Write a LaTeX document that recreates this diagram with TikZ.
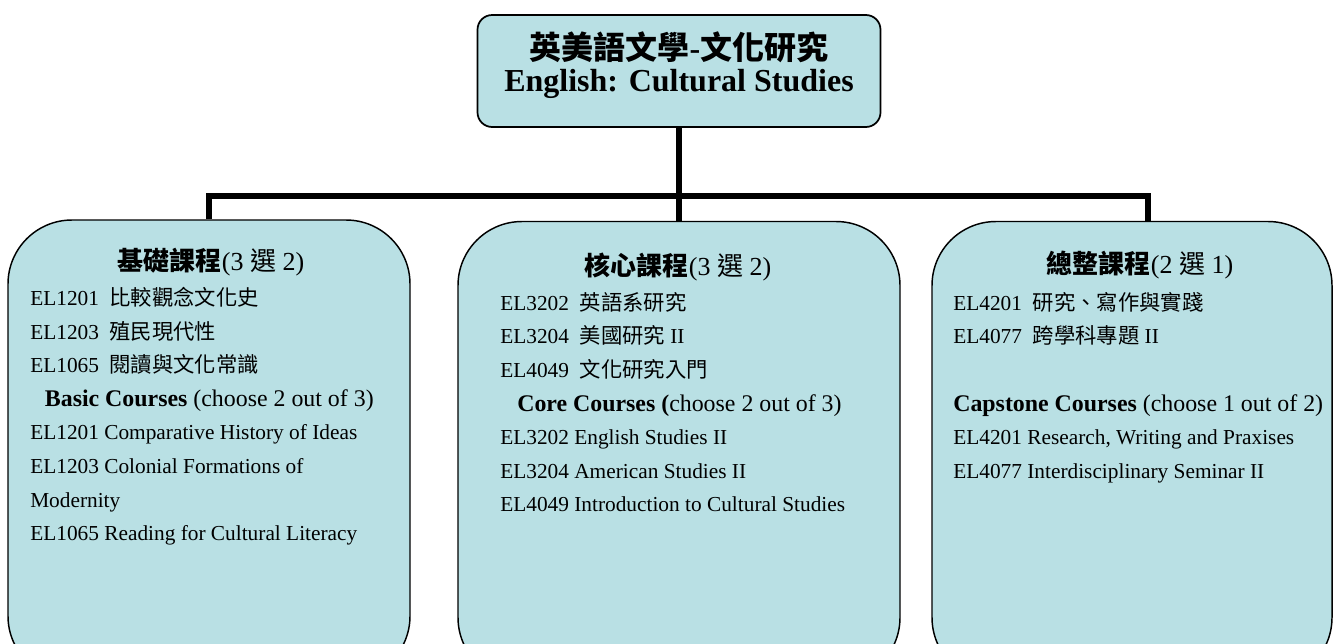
\documentclass[tikz,border=0pt]{standalone}
\usepackage{fontspec}
\setmainfont{Liberation Serif}
\newfontfamily\cjk{Noto Sans CJK TC}
\usetikzlibrary{positioning}
\definecolor{boxblue}{RGB}{185,224,228}
\newcommand\gap{\hspace{0.5em}}
\newcommand\bigline{\fontsize{17.9pt}{25.2pt}\selectfont}

\begin{document}
\begin{tikzpicture}[x=0.75pt, y=-0.75pt,
    coursebox/.style={draw=black, line width=1.1pt, fill=boxblue, rounded corners=48pt, minimum height=345pt},
    titlebox/.style={draw=black, line width=1.3pt, fill=boxblue, rounded corners=11pt, minimum width=302.25pt, minimum height=84pt},
    head/.style={inner sep=0pt, font=\fontsize{19.5pt}{24pt}\selectfont},
    courselist/.style={anchor=north west, align=left, inner sep=0pt, font=\fontsize{16pt}{25.2pt}\selectfont},
    link/.style={line width=4.2pt}]
    \useasboundingbox (0,0) rectangle (1341,643);
    \clip (0,0) rectangle (1341,643);
    % connectors
    \coordinate (bar) at (679,196);
    % title
    \node[titlebox] (title) at (679,71) {};
    \node[align=center, inner sep=0pt, font=\fontsize{24pt}{24pt}\selectfont] (titletext) at (679,65)
        {{\cjk\bfseries 英美語文學}\textbf{-}{\cjk\bfseries 文化研究}\\ \textbf{English: Cultural Studies}};
    % course boxes
    \node[coursebox, minimum width=301.5pt] (basic)    at (209,450)   {};
    \node[coursebox, minimum width=331.5pt] (core)     at (679,451.5) {};
    \node[coursebox, minimum width=300pt]   (capstone) at (1132,451.5) {};
    \draw[link] (title.south) -- (bar);
    \draw[link] (basic.north) |- (bar);
    \draw[link] (core.north) -- (bar);
    \draw[link] ([xshift=12pt]capstone.north) |- (bar);
    % basic courses
    \node[head] (basichead) at (211,262) {{\cjk\bfseries 基礎課程}(3 {\cjk 選} 2)};
    \node[courselist] (basiclist) at (30,287) {%
        EL1201\gap{\cjk 比較觀念文化史}\\
        EL1203\gap{\cjk 殖民現代性}\\
        EL1065\gap{\cjk 閱讀與文化常識}\\
        \hspace*{11pt}{\bigline\textbf{Basic Courses} (choose 2 out of 3)}\\
        EL1201 Comparative History of Ideas\\
        EL1203 Colonial Formations of\\
        Modernity\\
        EL1065 Reading for Cultural Literacy};
    % core courses
    \node[head] (corehead) at (678,267) {{\cjk\bfseries 核心課程}(3 {\cjk 選} 2)};
    \node[courselist] (corelist) at (500,292) {%
        EL3202\gap{\cjk 英語系研究}\\
        EL3204\gap{\cjk 美國研究} II\\
        EL4049\gap{\cjk 文化研究入門}\\
        \hspace*{12.75pt}{\bigline\textbf{Core Courses (}choose 2 out of 3)}\\
        EL3202 English Studies II\\
        EL3204 American Studies II\\
        EL4049 Introduction to Cultural Studies};
    % capstone courses
    \node[head] (capstonehead) at (1140,265) {{\cjk\bfseries 總整課程}(2 {\cjk 選} 1)};
    \node[courselist] (capstonelist) at (953,292) {%
        EL4201\gap{\cjk 研究、寫作與實踐}\\
        EL4077\gap{\cjk 跨學科專題} II\\[25.2pt]
        {\bigline\textbf{Capstone Courses} (choose 1 out of 2)}\\
        EL4201 Research, Writing and Praxises\\
        EL4077 Interdisciplinary Seminar II};
\end{tikzpicture}
\end{document}
